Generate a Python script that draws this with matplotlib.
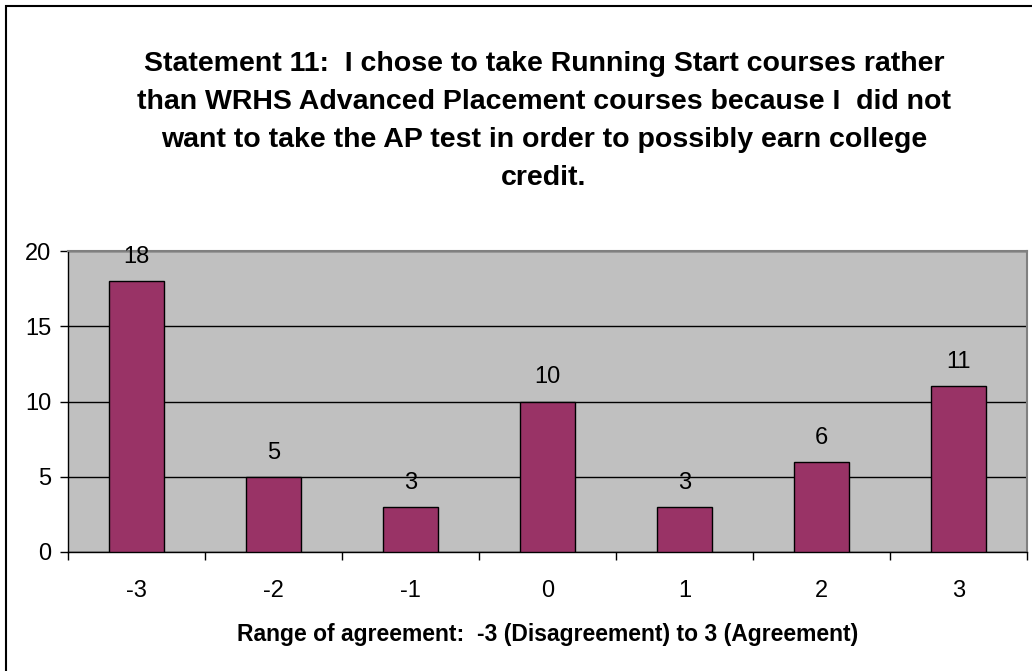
import matplotlib
matplotlib.use("Agg")
import matplotlib.pyplot as plt
from matplotlib.patches import Rectangle

categories = ["-3", "-2", "-1", "0", "1", "2", "3"]
values = [18, 5, 3, 10, 3, 6, 11]
yticks = [0, 5, 10, 15, 20]
title = ("Statement 11:  I chose to take Running Start courses rather\n"
         "than WRHS Advanced Placement courses because I  did not\n"
         "want to take the AP test in order to possibly earn college\n"
         "credit.")
xlabel = "Range of agreement:  -3 (Disagreement) to 3 (Agreement)"

plt.rcParams['font.family'] = ['Liberation Sans', 'DejaVu Sans']

W, H = 1032, 671
fig = plt.figure(figsize=(W/100, H/100), dpi=100)
fig.patches.append(Rectangle((6/W, -0.1), 1.2, (H-6)/H + 0.1, transform=fig.transFigure,
                             fill=False, edgecolor='black', linewidth=1.5))

ax = fig.add_axes([68/W, (H-552)/H, (1027-68)/W, (552-251)/H])
ax.set_facecolor('#C0C0C0')
x = list(range(len(categories)))
ax.bar(x, values, width=0.4, color='#993366', edgecolor='black', linewidth=1.0, zorder=3)
for xi, v in zip(x, values):
    ax.annotate(str(v), (xi, v), xytext=(0, 9.5), textcoords='offset points',
                ha='center', va='bottom', fontsize=17, zorder=4)

ax.set_xlim(-0.5, len(categories) - 0.5)
ax.set_ylim(0, 20)
ax.set_yticks(yticks)
ax.set_yticklabels([str(t) for t in yticks], fontsize=17)
ax.yaxis.grid(True, color='black', linewidth=1.0, zorder=1)
ax.set_axisbelow(True)

ax.set_xticks([i - 0.5 for i in range(len(categories) + 1)])
ax.set_xticklabels([])
ax.set_xticks(x, minor=True)
ax.set_xticklabels(categories, minor=True, fontsize=17)
ax.tick_params(axis='x', which='minor', length=0, pad=20)
ax.tick_params(axis='x', which='major', length=6, width=1, direction='out')
ax.tick_params(axis='y', length=6, width=1, direction='out', pad=6)

for s in ['top', 'right']:
    ax.spines[s].set_color('#808080')
    ax.spines[s].set_linewidth(1.5)
for s in ['left', 'bottom']:
    ax.spines[s].set_color('black')
    ax.spines[s].set_linewidth(1.0)

ax.set_xlabel(xlabel, fontsize=16.5, fontweight='bold', labelpad=15)

fig.text(0.527, (H-121)/H, title, ha='center', va='center', fontsize=20.5,
         fontweight='bold', linespacing=1.6)

fig.savefig('out.png', dpi=100)
